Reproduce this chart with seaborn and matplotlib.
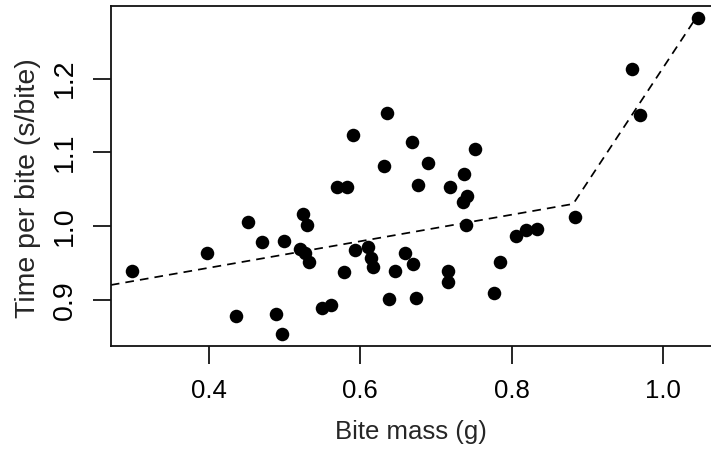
import matplotlib
matplotlib.use("Agg")
import matplotlib.pyplot as plt
import seaborn as sns
import pandas as pd

# bite mass (g) and time per bite (s/bite)
bite_mass = [0.299, 0.398, 0.452, 0.471, 0.500, 0.525, 0.530, 0.520, 0.527, 0.533,
             0.436, 0.489, 0.497, 0.549, 0.562, 0.570, 0.582, 0.579, 0.593, 0.610,
             0.614, 0.617, 0.646, 0.638, 0.659, 0.670, 0.674, 0.676, 0.718, 0.741,
             0.735, 0.740, 0.716, 0.716, 0.784, 0.777, 0.806, 0.819, 0.833, 0.883,
             0.669, 0.690, 0.751, 0.737, 0.958, 0.969, 1.046, 0.636, 0.590, 0.631]
time_per_bite = [0.939, 0.964, 1.005, 0.979, 0.980, 1.017, 1.001, 0.969, 0.964, 0.951,
                 0.878, 0.881, 0.854, 0.889, 0.893, 1.053, 1.053, 0.937, 0.968, 0.971,
                 0.956, 0.944, 0.939, 0.901, 0.963, 0.949, 0.902, 1.055, 1.053, 1.041,
                 1.033, 1.002, 0.939, 0.924, 0.951, 0.909, 0.986, 0.995, 0.996, 1.012,
                 1.114, 1.086, 1.105, 1.071, 1.213, 1.151, 1.282, 1.154, 1.124, 1.082]

# fitted broken-stick line
fit_x = [0.271, 0.881, 1.046]
fit_y = [0.920, 1.030, 1.287]

xticks = [0.4, 0.6, 0.8, 1.0]
yticks = [0.9, 1.0, 1.1, 1.2]

df = pd.DataFrame({"mass": bite_mass, "time": time_per_bite})

sns.set_style("ticks")
plt.rcParams["font.family"] = ["Liberation Sans", "DejaVu Sans"]

fig = plt.figure(figsize=(7.11, 4.49), dpi=100)
ax = fig.add_axes([0.1561, 0.230, 0.8622, 0.7566])

sns.lineplot(x=fit_x, y=fit_y, color="black", linewidth=1.25,
             linestyle=(0, (5, 3.5)), estimator=None, sort=False, ax=ax)
sns.scatterplot(data=df, x="mass", y="time", color="black", s=95,
                linewidth=0, ax=ax, zorder=3)

ax.set_xlim(0.2712, 1.080)
ax.set_ylim(0.8376, 1.2985)
ax.set_xticks(xticks)
ax.set_xticklabels([f"{v:.1f}" for v in xticks])
ax.set_yticks(yticks)
ax.set_yticklabels([f"{v:.1f}" for v in yticks], rotation=90, va="center")

for s in ax.spines.values():
    s.set_visible(True)
    s.set_color("#111111")
    s.set_linewidth(1.3)

ax.tick_params(axis="x", length=13, width=1.2, pad=11, labelsize=18.5, colors="black")
ax.tick_params(axis="y", length=13, width=1.2, pad=11, labelsize=20.5, colors="black")

ax.set_xlabel("Bite mass (g)", fontsize=18.5)
ax.set_ylabel("Time per bite (s/bite)", fontsize=20.5)
ax.xaxis.set_label_coords(0.49, -0.254)
ax.xaxis.label.set_verticalalignment("center")
ax.yaxis.set_label_coords(-0.1354, 0.463)
ax.yaxis.label.set_verticalalignment("center")

fig.savefig("out.png", dpi=100)
